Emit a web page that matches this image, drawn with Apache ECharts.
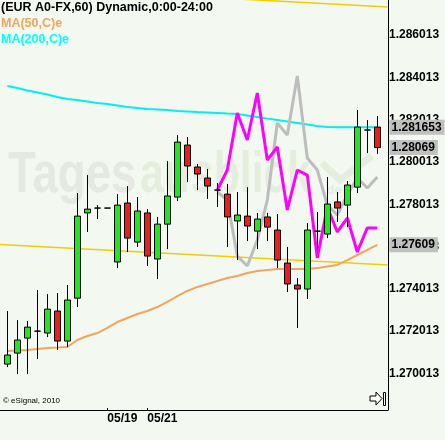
<!DOCTYPE html>
<html><head><meta charset="utf-8">
<script src="https://cdn.jsdelivr.net/npm/echarts@6/dist/echarts.min.js"></script>
<style>html,body{margin:0;padding:0;background:#f3f8f0}#c{width:445px;height:440px}</style>
</head><body><div id="c"></div>
<script>
// ---- data (hourly bars, index = bar number) ----
const openPrices  = [1.27045,1.27097,1.27168,1.27201,1.27192,1.27296,1.27154,1.27357,1.27760,1.27783,1.27783,1.27528,1.27807,1.27622,1.27760,1.27542,1.27707,1.27835,1.28081,1.27977,1.27925,1.27868,1.27849,1.27722,1.27745,1.27674,1.27741,1.27679,1.27523,1.27419,1.27400,1.27674,1.27660,1.27812,1.27797,1.27882,1.28152,1.28166];
const closePrices = [1.27088,1.27159,1.27220,1.27201,1.27305,1.27154,1.27348,1.27745,1.27778,1.27783,1.27783,1.27797,1.27641,1.27769,1.27556,1.27707,1.27840,1.28095,1.27982,1.27944,1.27887,1.27868,1.27741,1.27750,1.27698,1.27731,1.27693,1.27537,1.27424,1.27400,1.27679,1.27674,1.27802,1.27783,1.27892,1.28166,1.28152,1.28069];
const lowPrices   = [1.27031,1.26998,1.26998,1.27069,1.27173,1.27112,1.27126,1.27315,1.27670,1.27731,1.27783,1.27499,1.27575,1.27599,1.27509,1.27447,1.27589,1.27816,1.27906,1.27868,1.27826,1.27788,1.27599,1.27537,1.27627,1.27589,1.27627,1.27499,1.27386,1.27216,1.27353,1.27585,1.27641,1.27717,1.27693,1.27854,1.28043,1.28039];
const highPrices  = [1.27296,1.27253,1.27249,1.27395,1.27376,1.27381,1.27419,1.27854,1.27939,1.27797,1.27783,1.27849,1.27887,1.27835,1.27778,1.27741,1.28005,1.28128,1.28119,1.27991,1.27968,1.27901,1.27897,1.27859,1.27882,1.27760,1.27760,1.27755,1.27599,1.27452,1.27712,1.27764,1.27930,1.27859,1.27911,1.28247,1.28199,1.28218];
const ma50  = [1.27107,1.27109,1.27112,1.27116,1.27121,1.27123,1.27126,1.27159,1.27178,1.27192,1.27216,1.27244,1.27263,1.27282,1.27296,1.27315,1.27339,1.27367,1.27391,1.27410,1.27424,1.27438,1.27452,1.27462,1.27476,1.27485,1.27490,1.27495,1.27495,1.27495,1.27495,1.27499,1.27507,1.27514,1.27537,1.27561,1.27585,1.276093];
const ma200 = [1.28360,1.28351,1.28339,1.28330,1.28320,1.28308,1.28299,1.28294,1.28287,1.28280,1.28275,1.28268,1.28261,1.28256,1.28251,1.28249,1.28247,1.28242,1.28240,1.28237,1.28235,1.28233,1.28230,1.28228,1.28221,1.28214,1.28206,1.28199,1.28192,1.28185,1.28178,1.28171,1.28166,1.28165,1.28165,1.28165,1.28165,1.281653];
const overlayStart = 21;
const magentaLine = [1.27868,1.27963,1.28233,1.28105,1.28327,1.28010,1.28072,1.27774,1.27963,1.27939,1.27547,1.27788,1.27670,1.27736,1.27575,1.27689,1.27689];
const grayLine    = [1.27859,1.27821,1.27556,1.27509,1.27632,1.27821,1.28185,1.28128,1.28408,1.28020,1.27963,1.27797,1.27750,1.27845,1.27925,1.27878,1.27930];
const channelX     = [-0.73, 38.07];
const channelLower = [1.27611, 1.27514];
const channelUpper = [1.28832, 1.28734];
const xTickIndex  = [10, 14];
const xTickLabels = ['05/19', '05/21'];
const yTickLabels = ['1.270013','1.272013','1.274013','1.276013','1.278013','1.280013','1.282013','1.284013','1.286013'];
const lastValues = [ma200[ma200.length - 1], closePrices[closePrices.length - 1], ma50[ma50.length - 1]];
const lastTexts  = ['1.281653', '1.28069', '1.27609'];
const yMin = 1.26828, yMax = 1.28767;
const xMin = -0.73, xMax = 38.07;

const candleData = openPrices.map((o, i) => [i, o, closePrices[i], lowPrices[i], highPrices[i]]);

const chart = echarts.init(document.getElementById('c'), null, {renderer: 'canvas'});
const FONT = '"Liberation Sans", Arial, sans-serif';

const baseGraphic = [
  {type: 'text', x: 8, y: 176, z: -10, silent: true, scaleX: 0.8,
    style: {text: 'Tages', font: 'bold 57px ' + FONT, fill: '#e5e9e2', verticalAlign: 'middle'}},
  {type: 'text', x: 140, y: 176, z: -10, silent: true, scaleX: 0.75,
    style: {text: 'ausblick', font: 'bold 57px ' + FONT, fill: '#e4eedc', verticalAlign: 'middle'}},
  {type: 'polyline', z: -10, silent: true, shape: {points: [[322, 163], [340, 180], [372, 156]]},
    style: {stroke: '#e4eedc', lineWidth: 7, fill: null}},
  {type: 'text', x: 323, y: 190, z: -10, silent: true,
    style: {text: '.de', font: 'bold 13px ' + FONT, fill: '#e5e9e2', verticalAlign: 'middle'}},
  {type: 'text', x: 1, y: 8, silent: true,
    style: {text: '(EUR A0-FX,60) Dynamic,0:00-24:00', font: 'bold 12.5px ' + FONT, fill: '#000', verticalAlign: 'middle'}},
  {type: 'text', x: 1, y: 24, silent: true,
    style: {text: 'MA(50,C)e', font: 'bold 12.5px ' + FONT, fill: '#f4a460', verticalAlign: 'middle'}},
  {type: 'text', x: 1, y: 40, silent: true,
    style: {text: 'MA(200,C)e', font: 'bold 12.5px ' + FONT, fill: '#00ffff', verticalAlign: 'middle'}},
  {type: 'text', x: 3, y: 401, silent: true,
    style: {text: '\u00a9 eSignal, 2010', font: '8px ' + FONT, fill: '#000', verticalAlign: 'middle'}},
  {type: 'polygon', silent: true, shape: {points: [[370, 396], [376, 396], [376, 392], [382, 398.5], [376, 405], [376, 401], [370, 401]]},
    style: {stroke: '#000', lineWidth: 1, fill: '#fff'}},
  {type: 'rect', silent: true, shape: {x: 383.5, y: 392.5, width: 2, height: 13},
    style: {stroke: '#000', lineWidth: 1, fill: '#fff'}}
];

chart.setOption({
  animation: false,
  backgroundColor: '#f3f8f0',
  grid: {left: 0, right: 57, top: 0, bottom: 30, containLabel: false, outerBoundsMode: 'none'},
  xAxis: {
    type: 'value', min: xMin, max: xMax,
    splitLine: {show: false},
    axisLine: {show: true, onZero: false, lineStyle: {color: '#000', width: 1}},
    axisTick: {show: true, inside: true, length: 2, customValues: xTickIndex, lineStyle: {color: '#000'}},
    axisLabel: {show: true, customValues: xTickIndex, align: 'left', margin: 3,
      color: '#000', fontWeight: 'bold', fontSize: 12, fontFamily: FONT,
      formatter: v => xTickLabels[xTickIndex.indexOf(Math.round(v))] || ''}
  },
  yAxis: {
    type: 'value', position: 'right', min: yMin, max: yMax, scale: true,
    splitLine: {show: false},
    axisLine: {show: true, onZero: false, lineStyle: {color: '#000', width: 1}},
    axisTick: {show: false},
    axisLabel: {show: true, customValues: yTickLabels.map(Number), margin: 1,
      color: '#000', fontWeight: 'bold', fontSize: 12, fontFamily: FONT,
      formatter: v => v.toFixed(6)}
  },
  series: [
    {type: 'line', data: channelX.map((x, k) => [x, channelLower[k]]), symbol: 'none', lineStyle: {color: '#f5cc00', width: 1.5}, z: 1, silent: true},
    {type: 'line', data: channelX.map((x, k) => [x, channelUpper[k]]), symbol: 'none', lineStyle: {color: '#f5cc00', width: 1.5}, z: 1, silent: true},
    {type: 'line', data: ma50.map((v, i) => [i, v]), symbol: 'none', lineStyle: {color: '#f4a460', width: 2}, z: 2, silent: true},
    {type: 'line', data: ma200.map((v, i) => [i, v]), symbol: 'none', lineStyle: {color: '#00f0f0', width: 2}, z: 2, silent: true},
    {type: 'line', data: grayLine.map((v, k) => [k + overlayStart, v]), symbol: 'none', lineStyle: {color: '#bdbdbd', width: 3}, z: 2, silent: true},
    {type: 'line', data: magentaLine.map((v, k) => [k + overlayStart, v]), symbol: 'none', lineStyle: {color: '#ff00ff', width: 3}, z: 3, silent: true},
    {type: 'candlestick', data: candleData, encode: {x: 0, y: [1, 2, 3, 4]}, barWidth: 7, z: 5, silent: true,
      itemStyle: {color: '#1ee81e', color0: '#ee1c1c', borderColor: '#000', borderColor0: '#000', borderColorDoji: '#000', borderWidth: 1}}
  ],
  graphic: baseGraphic
});

// last-value markers placed on the price axis through the chart's own scale
const axisX = chart.convertToPixel({xAxisIndex: 0}, xMax);
const markers = lastValues.map((v, k) => ({
  type: 'text', z: 50, silent: true,
  x: axisX + 1.5, y: chart.convertToPixel({yAxisIndex: 0}, v),
  style: {text: lastTexts[k], font: 'bold 12px ' + FONT, fill: '#000', verticalAlign: 'middle',
    backgroundColor: '#c0c0c0', padding: [2, 3, 1, 2]}
}));
chart.setOption({graphic: baseGraphic.concat(markers)});
</script>
</body></html>
